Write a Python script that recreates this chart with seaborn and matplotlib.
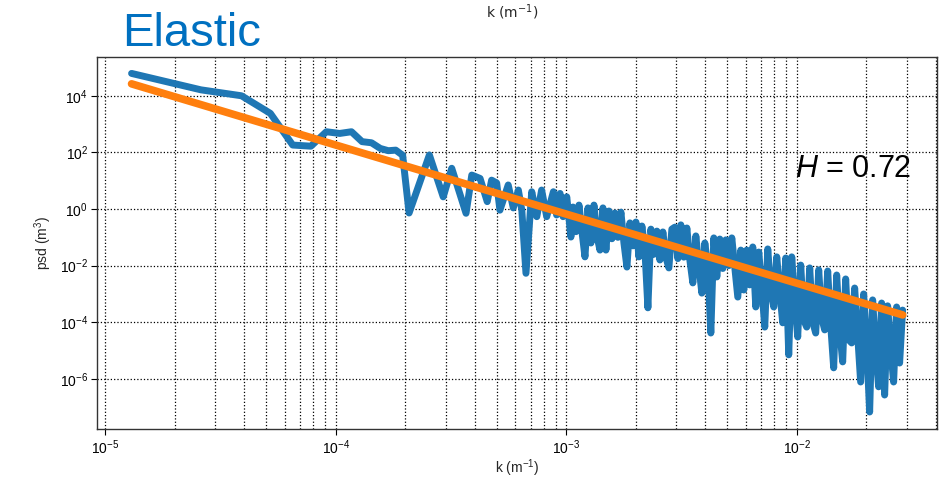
import numpy as np
import pandas as pd
import matplotlib
matplotlib.use("Agg")
import matplotlib.pyplot as plt
import seaborn as sns
from matplotlib.ticker import FixedLocator, NullLocator, LogLocator, NullFormatter

# Power spectral density of the profile, low wavenumbers (log10 values)
log_k_low = [
    -4.886, -4.585, -4.409, -4.284, -4.187, -4.108, -4.041, -3.983, -3.932, -3.886,
    -3.845, -3.807, -3.772, -3.740, -3.710, -3.682, -3.594, -3.534, -3.497, -3.435,
    -3.410, -3.374, -3.343, -3.324, -3.302, -3.288, -3.252, -3.230, -3.208, -3.193,
    -3.175, -3.150, -3.128, -3.107, -3.085, -3.056, -3.042, -3.027, -3.014, -2.998,
    -2.980,
]
log_psd_low = [
    4.79, 4.21, 4.00, 3.38, 2.26, 2.22, 2.73, 2.67, 2.73, 2.38,
    2.34, 2.14, 2.06, 2.08, 1.90, -0.14, 1.91, 0.43, 1.44, -0.15,
    1.20, 1.08, 0.26, 1.02, 0.92, -0.04, 0.85, 0.04, 0.67, -0.04,
    -2.27, 0.61, -0.27, 0.67, -0.27, 0.61, -0.21, 0.55, -0.27, 0.43,
    -0.99,
]

# High wavenumbers (log10 values)
log_k_high = [
    -2.971, -2.958, -2.945, -2.932, -2.919, -2.906, -2.893, -2.880, -2.867, -2.854,
    -2.841, -2.828, -2.815, -2.802, -2.789, -2.776, -2.763, -2.750, -2.737, -2.724,
    -2.711, -2.698, -2.685, -2.672, -2.659, -2.646, -2.633, -2.620, -2.607, -2.594,
    -2.581, -2.568, -2.555, -2.542, -2.529, -2.516, -2.503, -2.490, -2.477, -2.464,
    -2.451, -2.438, -2.425, -2.412, -2.399, -2.386, -2.373, -2.360, -2.347, -2.334,
    -2.321, -2.308, -2.295, -2.282, -2.269, -2.256, -2.243, -2.230, -2.217, -2.204,
    -2.191, -2.178, -2.165, -2.152, -2.139, -2.126, -2.113, -2.100, -2.087, -2.074,
    -2.061, -2.048, -2.035, -2.022, -2.009, -1.996, -1.983, -1.970, -1.957, -1.944,
    -1.931, -1.918, -1.905, -1.892, -1.879, -1.866, -1.853, -1.840, -1.827, -1.814,
    -1.801, -1.788, -1.775, -1.762, -1.749, -1.736, -1.723, -1.710, -1.697, -1.684,
    -1.671, -1.658, -1.645, -1.632, -1.619, -1.606, -1.593, -1.580, -1.567, -1.554,
    -1.541,
]
log_psd_high = [
    0.07, -0.80, 0.14, -0.80, -1.69, 0.04, -1.20, 0.14, -0.95, -1.45,
    0.04, -1.45, -0.07, -1.05, -0.14, -1.00, -0.11, -1.20, -2.05, -0.49,
    -1.30, -0.46, -1.69, -0.60, -1.45, -3.49, -0.71, -1.60, -0.78, -1.80,
    -0.81, -1.70, -2.08, -0.71, -0.64, -1.75, -0.56, -1.70, -0.67, -1.80,
    -2.61, -0.95, -2.00, -2.97, -1.20, -2.05, -4.38, -1.02, -2.40, -1.06,
    -2.10, -1.09, -2.00, -1.02, -2.08, -3.11, -1.45, -2.86, -1.45, -2.68,
    -1.34, -3.46, -1.52, -2.79, -4.17, -1.41, -2.86, -3.46, -1.69, -2.93,
    -4.02, -1.73, -5.15, -1.69, -3.21, -4.52, -1.98, -3.92, -4.17, -2.08,
    -3.99, -4.38, -2.15, -3.85, -4.27, -2.19, -4.09, -5.61, -2.33, -4.27,
    -5.40, -2.47, -4.62, -4.73, -2.79, -4.45, -6.11, -3.00, -4.80, -7.17,
    -3.21, -4.98, -6.28, -3.32, -6.57, -3.42, -4.91, -6.11, -3.46, -5.44,
    -3.57,
]

# Self-affine fit: psd = C * k^-(1 + 2H)
hurst = 0.72
fit_log_c = -7.50
fit_k_ends = [1.30e-5, 2.88e-2]

x_ticks = [1e-5, 1e-4, 1e-3, 1e-2]
y_ticks = [1e-6, 1e-4, 1e-2, 1e0, 1e2, 1e4]

sns.set_style("ticks")
plt.rcParams["font.family"] = ["Liberation Sans", "DejaVu Sans"]
plt.rcParams["mathtext.fontset"] = "custom"
plt.rcParams["mathtext.rm"] = "Liberation Sans"
plt.rcParams["mathtext.it"] = "Liberation Sans:italic"
plt.rcParams["mathtext.bf"] = "Liberation Sans:bold"

log_k = np.array(log_k_low + log_k_high)
log_psd = np.array(log_psd_low + log_psd_high)
spec = pd.DataFrame({"k": 10.0 ** log_k, "psd": 10.0 ** log_psd})
fit_k = np.array(fit_k_ends)
fit = pd.DataFrame({"k": fit_k, "psd": 10.0 ** fit_log_c * fit_k ** (-(1 + 2 * hurst))})

fig = plt.figure(figsize=(9.49, 4.79), dpi=100)
ax = fig.add_axes([0.1022, 0.1044, 0.8851, 0.7766])

sns.lineplot(data=spec, x="k", y="psd", ax=ax, color="#1f77b4", lw=5,
             estimator=None, sort=False)
sns.lineplot(data=fit, x="k", y="psd", ax=ax, color="#ff7f0e", lw=5.5,
             estimator=None, sort=False)

ax.set_xscale("log")
ax.set_yscale("log")
ax.set_xlim(10 ** -5.036, 10 ** -1.392)
ax.set_ylim(10 ** -7.77, 10 ** 5.37)

ax.xaxis.set_major_locator(FixedLocator(x_ticks))
ax.xaxis.set_minor_locator(LogLocator(base=10, subs=np.arange(2, 10)))
ax.xaxis.set_minor_formatter(NullFormatter())
ax.yaxis.set_major_locator(FixedLocator(y_ticks))
ax.yaxis.set_minor_locator(NullLocator())

ax.grid(True, which="major", axis="both", ls=":", color="black", lw=0.9)
ax.grid(True, which="minor", axis="x", ls=":", color="black", lw=0.9)

ax.tick_params(axis="both", which="major", direction="out", length=4, width=0.8,
               labelsize=10, colors="black", pad=2.5)
ax.tick_params(axis="x", which="minor", length=0)
for s in ax.spines.values():
    s.set_visible(True)
    s.set_color("#333333")
    s.set_linewidth(1.0)

ax.set_xlabel("k (m$^{-1}$)", fontsize=10, va="top")
ax.xaxis.set_label_coords(0.5, -0.077)
ax.set_ylabel("psd (m$^{3}$)", fontsize=10, labelpad=4)

ax.text(0.831, 0.677, "$H$ = 0.72", transform=ax.transAxes, fontsize=22,
        va="baseline", ha="left", color="black")

fig.text(0.1286, 0.904, "Elastic", fontsize=34, color="#0070C0",
         va="baseline", ha="left")
fig.text(0.540, 0.975, "k (m$^{-1}$)", fontsize=10, ha="center", va="center",
         family=["DejaVu Sans"], math_fontfamily="dejavusans")

fig.savefig("out.png", dpi=100)
